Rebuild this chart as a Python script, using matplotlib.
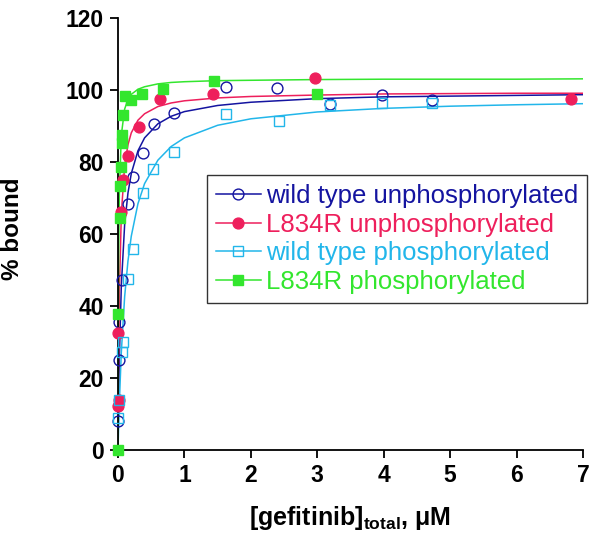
import numpy as np
import matplotlib
matplotlib.use("Agg")
import matplotlib.pyplot as plt

plt.rcParams['font.family'] = ['Liberation Sans', 'DejaVu Sans']
plt.rcParams['mathtext.fontset'] = 'custom'
plt.rcParams['mathtext.rm'] = 'Liberation Sans'
plt.rcParams['mathtext.bf'] = 'Liberation Sans:bold'

# measured points (gefitinib total, uM ; % bound)
wt_unp_x = [0.005, 0.012, 0.02, 0.065, 0.145, 0.23, 0.38, 0.54, 0.85, 1.63, 2.40, 3.19, 3.97, 4.73]
wt_unp_y = [8.1, 25.0, 35.6, 47.2, 68.3, 75.9, 82.5, 90.6, 93.6, 100.7, 100.5, 96.1, 98.5, 97.2]

mut_unp_x = [0.005, 0.008, 0.005, 0.04, 0.075, 0.155, 0.32, 0.63, 1.43, 2.97, 6.82]
mut_unp_y = [12.3, 13.9, 32.6, 66.0, 75.0, 81.6, 89.7, 97.4, 99.0, 103.4, 97.6]

wt_p_x = [0.005, 0.01, 0.055, 0.08, 0.155, 0.23, 0.38, 0.53, 0.85, 1.63, 2.43, 3.19, 3.97, 4.73]
wt_p_y = [9.0, 13.9, 27.3, 30.0, 47.4, 55.7, 71.3, 78.1, 82.9, 93.3, 91.5, 95.8, 96.3, 96.3]

mut_p_x = [0.0, 0.005, 0.03, 0.03, 0.045, 0.055, 0.055, 0.08, 0.105, 0.20, 0.36, 0.68, 1.45, 2.99]
mut_p_y = [0.0, 37.8, 64.5, 73.4, 78.7, 85.3, 87.5, 93.0, 98.4, 97.2, 98.8, 100.2, 102.4, 98.9]

# fitted curves, values
fit_x = [0, 0.005, 0.01, 0.02, 0.05, 0.1, 0.15, 0.2, 0.3, 0.4, 0.6, 0.8, 1, 1.5, 2, 3, 4, 5, 6, 7]
fit_wt_unp = [0, 7.8, 14.4, 25.2, 45.6, 62.6, 71.4, 76.8, 83.1, 86.7, 90.6, 92.7, 94.0, 95.7, 96.6, 97.6, 98.1, 98.3, 98.5, 98.7]
fit_mut_unp = [0, 16.0, 27.6, 43.3, 65.5, 79.0, 84.8, 88.1, 91.6, 93.4, 95.4, 96.4, 97.0, 97.8, 98.2, 98.6, 98.9, 99.0, 99.1, 99.1]
fit_wt_p = [0, 3.6, 7.0, 13.1, 27.2, 42.6, 52.5, 59.4, 68.4, 74.0, 80.5, 84.3, 86.7, 90.2, 92.0, 93.9, 94.9, 95.5, 95.9, 96.2]
fit_mut_p = [0, 36.2, 54.3, 71.2, 87.5, 94.7, 97.4, 98.8, 100.2, 100.9, 101.7, 102.1, 102.3, 102.6, 102.7, 102.9, 103.0, 103.0, 103.0, 103.1]

labels = ["wild type unphosphorylated", "L834R unphosphorylated",
          "wild type phosphorylated", "L834R phosphorylated"]
colors = ['#1414a0', '#ee1f5c', '#22b6ea', '#33e62e']

fig = plt.figure(figsize=(6.0, 5.43), dpi=100)
ax = fig.add_axes([118/600, 1-450/543, 465/600, 432/543])

series = [
    (wt_unp_x, wt_unp_y, fit_wt_unp, 'o', 'none'),
    (mut_unp_x, mut_unp_y, fit_mut_unp, 'o', colors[1]),
    (wt_p_x, wt_p_y, fit_wt_p, 's', 'none'),
    (mut_p_x, mut_p_y, fit_mut_p, 's', colors[3]),
]

handles = []
for (xs, ys, fit, mk, fc), col, lab in zip(series, colors, labels):
    ax.plot(fit_x, fit, color=col, lw=1.1, zorder=2)
    ax.plot(xs, ys, ls='none', marker=mk, ms=7.8, mfc=fc, mec=col, mew=1.0,
            zorder=3, clip_on=False)
    h, = ax.plot([], [], color=col, lw=1.1, marker=mk, ms=7.8, mfc=fc, mec=col, mew=1.0)
    handles.append(h)

ax.set_xlim(0, 7)
ax.set_ylim(0, 120)
ax.set_xticks(range(0, 8))
ax.set_yticks(range(0, 121, 20))
for s in ['top', 'right']:
    ax.spines[s].set_visible(False)
for s in ['left', 'bottom']:
    ax.spines[s].set_linewidth(1.3)
ax.tick_params(direction='out', length=6, width=1.3, pad=4, labelsize=16.5)
for t in ax.get_xticklabels() + ax.get_yticklabels():
    t.set_fontweight('bold')

ax.set_xlabel(r"[gefitinib]$_\mathbf{total}$, μM", fontsize=18, fontweight='bold', labelpad=12)
ax.set_ylabel("% bound", fontsize=17.5, fontweight='bold')
ax.yaxis.set_label_coords(-0.202, 0.512)

leg = fig.legend(handles, labels, loc='upper left', bbox_to_anchor=(207/600, 1-175/543),
                 fontsize=18.5, frameon=True, fancybox=False, handlelength=1.75,
                 handletextpad=0.2, labelspacing=0.18, borderpad=0.35, borderaxespad=0)
leg.get_frame().set_edgecolor('black')
leg.get_frame().set_linewidth(1.0)
for t, col in zip(leg.get_texts(), colors):
    t.set_color(col)

fig.savefig("out.png", dpi=100)
